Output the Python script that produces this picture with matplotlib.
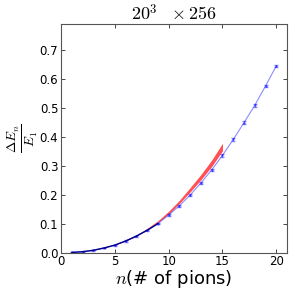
import matplotlib
matplotlib.use("Agg")
import matplotlib.pyplot as plt
import numpy as np

plt.rcParams['mathtext.fontset'] = 'cm'
plt.rcParams['font.family'] = 'DejaVu Sans'

# lattice data (points with error bars)
n_pions = np.arange(1, 21)
dE = [0.0006, 0.003, 0.008, 0.016, 0.026, 0.040, 0.057, 0.077, 0.100, 0.130,
      0.162, 0.199, 0.241, 0.286, 0.336, 0.391, 0.449, 0.509, 0.576, 0.645]
dE_err = [0.0005, 0.0008, 0.001, 0.001, 0.0015, 0.002, 0.002, 0.002, 0.0025, 0.003,
          0.003, 0.003, 0.0035, 0.004, 0.004, 0.004, 0.0045, 0.005, 0.005, 0.005]

# theory band
n_band = np.arange(1, 16)
band_lo = [0.0006, 0.003, 0.008, 0.016, 0.026, 0.040, 0.057, 0.079, 0.104, 0.134,
           0.170, 0.210, 0.252, 0.298, 0.352]
band_hi = [0.0007, 0.0032, 0.0085, 0.017, 0.027, 0.042, 0.060, 0.084, 0.110, 0.143,
           0.181, 0.225, 0.270, 0.320, 0.378]

fig = plt.figure(figsize=(2.95, 2.9), dpi=100)
ax = fig.add_axes([0.207, 0.129, 0.766, 0.788])

ax.fill_between(n_band, band_lo, band_hi, color='#ff3333', alpha=0.85, lw=0, zorder=1)
ax.plot(n_pions[:9], dE[:9], color='#00008b', lw=1.0, zorder=3)
ax.errorbar(n_pions, dE, yerr=dE_err, fmt='+-', color='blue', alpha=0.45,
            markersize=2, lw=0.8, capsize=1.5, elinewidth=0.8, zorder=2)

ax.set_xlim(0, 21)
ax.set_ylim(0, 0.79)
ax.set_xticks([0, 5, 10, 15, 20])
ax.set_yticks([0.0, 0.1, 0.2, 0.3, 0.4, 0.5, 0.6, 0.7])
ax.tick_params(direction='in', top=True, right=True, labelsize=8.5, length=3, width=0.5, pad=2)
for s in ax.spines.values():
    s.set_color('#555555')
    s.set_linewidth(0.8)

ax.set_title(r'$20^3\ \ \times 256$', fontsize=13, pad=3)
ax.set_xlabel(r'$n$(# of pions)', fontsize=13, labelpad=0)
ax.set_ylabel(r'$\frac{\Delta E_n}{E_1}$', fontsize=14, labelpad=0)

fig.savefig('out.png', dpi=100)
